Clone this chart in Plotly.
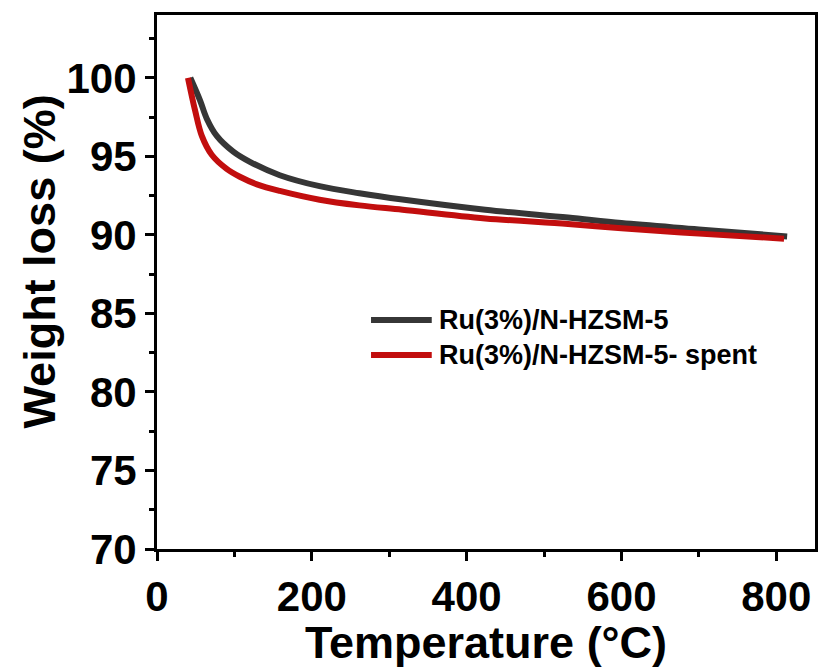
import plotly.graph_objects as go

# Data
temp_fresh = [43, 55.7, 64.3, 77.2, 98.5, 120, 158.6, 210, 261.5, 317, 424, 531, 600, 700, 814]
wt_fresh = [100.0, 98.55, 97.4, 96.3, 95.3, 94.65, 93.8, 93.1, 92.65, 92.25, 91.6, 91.1, 90.75, 90.35, 89.9]

temp_spent = [40, 49.3, 57.9, 70.7, 90, 107, 130, 158.6, 210, 261.5, 317, 424, 531, 600, 700, 810]
wt_spent = [100.0, 97.9, 96.3, 95.1, 94.2, 93.7, 93.2, 92.8, 92.24, 91.88, 91.6, 91.05, 90.7, 90.42, 90.08, 89.76]

names = ["Ru(3%)/N-HZSM-5", "Ru(3%)/N-HZSM-5- spent"]
colors = ["#363636", "#c20e0e"]

x_ticks = [0, 200, 400, 600, 800]
y_ticks = [70, 75, 80, 85, 90, 95, 100]

FONT = "Liberation Sans, Arial, sans-serif"

fig = go.Figure()
for xs, ys, nm, c in [(temp_fresh, wt_fresh, names[0], colors[0]),
                      (temp_spent, wt_spent, names[1], colors[1])]:
    fig.add_trace(go.Scatter(x=xs, y=ys, mode="lines", name=nm,
                             line=dict(color=c, width=6, shape="spline", smoothing=1.0),
                             showlegend=False))

# Manual legend (swatch + text) in paper coordinates
W, H = 823, 668
ml, mr, mt, mb = 157, 5, 15, 119
pw, ph = W - ml - mr, H - mt - mb
def px(xpix):
    return (xpix - ml) / pw
def py(ypix):
    return 1 - (ypix - mt) / ph

leg_y = [320, 355]
for i in range(2):
    fig.add_shape(type="line", xref="paper", yref="paper",
                  x0=px(372), x1=px(433), y0=py(leg_y[i]), y1=py(leg_y[i]),
                  line=dict(color=colors[i], width=6))
    fig.add_annotation(xref="paper", yref="paper", x=px(438), y=py(leg_y[i]),
                       text=names[i], showarrow=False, xanchor="left", yanchor="middle",
                       font=dict(family=FONT, size=27, color="black", weight="bold"))

# Y-axis title as annotation to match position
fig.add_annotation(xref="paper", yref="paper", x=px(38), y=py(262), text="Weight loss (%)",
                   textangle=-90, showarrow=False, xanchor="center", yanchor="middle",
                   font=dict(family=FONT, size=45, color="black", weight="bold"))

axis_common = dict(showline=True, linecolor="black", linewidth=3, mirror=True,
                   ticks="outside", ticklen=9, tickwidth=3, tickcolor="black",
                   showgrid=False, zeroline=False,
                   tickfont=dict(family=FONT, size=42, color="black", weight="bold"))

fig.update_layout(
    width=W, height=H,
    margin=dict(l=ml, r=mr, t=mt, b=mb),
    plot_bgcolor="white", paper_bgcolor="white",
    xaxis=dict(range=[0, 850], tickvals=x_ticks,
               minor=dict(dtick=100, ticks="outside", ticklen=5, tickwidth=3, tickcolor="black"),
               title=dict(text="Temperature (°C)", standoff=6,
                          font=dict(family=FONT, size=45, color="black", weight="bold")),
               **axis_common),
    yaxis=dict(range=[70, 104], tickvals=y_ticks,
               minor=dict(dtick=2.5, ticks="outside", ticklen=5, tickwidth=3, tickcolor="black"),
               **axis_common),
)

fig.write_html("out.html", config={"displayModeBar": False},
               post_script="document.body.style.margin='0';document.body.style.overflow='hidden';")
